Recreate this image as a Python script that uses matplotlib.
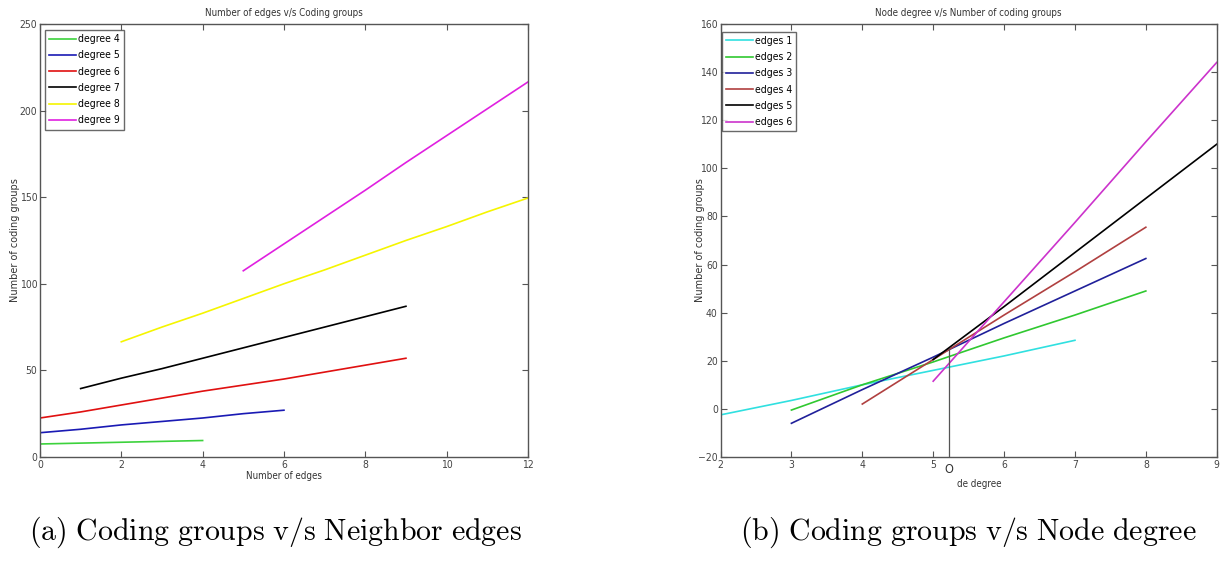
import matplotlib
matplotlib.use('Agg')
import matplotlib.pyplot as plt

# fuentes
plt.rcParams['font.family'] = ['Liberation Sans Narrow', 'DejaVu Sans']
plt.rcParams['font.stretch'] = 'condensed'
plt.rcParams['mathtext.fontset'] = 'cm'

# Panel (a): número de aristas vs grupos de codificación
a_labels = ['degree 4', 'degree 5', 'degree 6', 'degree 7', 'degree 8', 'degree 9']
a_x = [
    [0, 1, 2, 3, 4],
    [0, 1, 2, 3, 4, 5, 6],
    [0, 1, 2, 3, 4, 5, 6, 7, 8, 9],
    [1, 2, 3, 4, 5, 6, 7, 8, 9],
    [2, 3, 4, 5, 6, 7, 8, 9, 10, 11, 12],
    [5, 6, 7, 8, 9, 10, 11, 12],
]
a_y = [
    [7.5, 8, 8.5, 9, 9.5],
    [14, 16, 18.5, 20.5, 22.5, 25, 27],
    [22.5, 26, 30, 34, 38, 41.5, 45, 49, 53, 57],
    [39.5, 45.5, 51, 57, 63, 69, 75, 81, 87],
    [66.5, 75, 83, 91.5, 100, 108, 116.5, 125, 133, 141.5, 149.5],
    [107.5, 123, 138.5, 154, 170, 185.5, 201, 216.5],
]
a_colors = ['#3cd23c', '#1a1ab4', '#e01010', '#000000', '#f5f500', '#e020e0']

# Panel (b): grado del nodo vs grupos de codificación
b_labels = ['edges 1', 'edges 2', 'edges 3', 'edges 4', 'edges 5', 'edges 6']
b_x = [
    [2, 3, 4, 5, 6, 7],
    [3, 4, 5, 6, 7, 8],
    [3, 4, 5, 6, 7, 8],
    [4, 5, 6, 7, 8],
    [5, 6, 7, 8, 9],
    [5, 6, 7, 8, 9],
]
b_y = [
    [-2.5, 3.5, 10, 16, 22, 28.5],
    [-0.5, 10, 19.5, 29.5, 39, 49],
    [-6, 8, 21.5, 35.5, 49, 62.5],
    [2, 20.5, 39, 57, 75.5],
    [20.5, 42.5, 65, 87.5, 110],
    [11.5, 44.5, 77.5, 111, 144],
]
b_colors = ['#30e0e0', '#30c830', '#20209a', '#b04040', '#000000', '#cc33cc']
b_marker_x = 5.22
b_marker_top = 25

axis_gray = '#555555'
text_gray = '#444444'

fig = plt.figure(figsize=(12.3, 5.65), dpi=100)
ax_a = fig.add_axes([0.0325, 0.1912, 0.3967, 0.7664])
ax_b = fig.add_axes([0.5858, 0.1912, 0.4034, 0.7664])


def style_axes(ax):
    for s in ax.spines.values():
        s.set_color(axis_gray)
        s.set_linewidth(1.0)
    ax.tick_params(direction='in', top=True, right=True, length=4,
                   color=axis_gray, labelcolor=text_gray, labelsize=7.5, pad=2)


def style_legend(leg):
    leg.get_frame().set_edgecolor('#444444')
    leg.get_frame().set_linewidth(1.0)


for xs, ys, c, lab in zip(a_x, a_y, a_colors, a_labels):
    ax_a.plot(xs, ys, color=c, lw=1.2, label=lab)
ax_a.set_xlim(0, 12)
ax_a.set_ylim(0, 250)
ax_a.set_xticks(range(0, 13, 2))
ax_a.set_yticks(range(0, 251, 50))
style_axes(ax_a)
ax_a.set_title('Number of edges v/s Coding groups', fontsize=7, color='#333333', pad=6)
ax_a.set_xlabel('Number of edges', fontsize=7, color='#333333', labelpad=1)
ax_a.set_ylabel('Number of coding groups', fontsize=7, color='#333333',
                family='DejaVu Sans', stretch='normal')
ax_a.yaxis.set_label_coords(-0.04, 0.5)
style_legend(ax_a.legend(loc='upper left', bbox_to_anchor=(0.01, 0.986), fontsize=7.5,
                         frameon=True, fancybox=False, handlelength=2.6, borderpad=0.4,
                         labelspacing=0.6, handletextpad=0.2, borderaxespad=0))

for xs, ys, c, lab in zip(b_x, b_y, b_colors, b_labels):
    ax_b.plot(xs, ys, color=c, lw=1.2, label=lab)
ax_b.plot([b_marker_x, b_marker_x], [-20, b_marker_top], color=axis_gray, lw=0.9)
ax_b.set_xlim(2, 9)
ax_b.set_ylim(-20, 160)
ax_b.set_xticks(range(2, 10))
ax_b.set_yticks(range(-20, 161, 20))
style_axes(ax_b)
ax_b.set_title('Node degree v/s Number of coding groups', fontsize=7, color='#333333', pad=6)
ax_b.set_ylabel('Number of coding groups', fontsize=7, color='#333333',
                family='DejaVu Sans', stretch='normal')
ax_b.yaxis.set_label_coords(-0.031, 0.5)
ax_b.text(b_marker_x, -0.015, 'O', transform=ax_b.get_xaxis_transform(),
          ha='center', va='top', fontsize=9, color='#333333', family='DejaVu Sans')
ax_b.text(0.4765, -0.05, 'de degree', transform=ax_b.transAxes,
          ha='left', va='top', fontsize=7, color='#333333')
style_legend(ax_b.legend(loc='upper left', bbox_to_anchor=(0.002, 0.982), fontsize=7.5,
                         frameon=True, fancybox=False, handlelength=2.6, borderpad=0.4,
                         labelspacing=0.6, handletextpad=0.2, borderaxespad=0))

# leyendas de las figuras
fig.text(275 / 1230, 1 - 532 / 565, r'$\mathrm{(a)\ Coding\ groups\ v/s\ Neighbor\ edges}$',
         ha='center', va='center', fontsize=21.5)
fig.text(968 / 1230, 1 - 532 / 565, r'$\mathrm{(b)\ Coding\ groups\ v/s\ Node\ degree}$',
         ha='center', va='center', fontsize=21.5)

fig.savefig('out.png', dpi=100, facecolor='white')
